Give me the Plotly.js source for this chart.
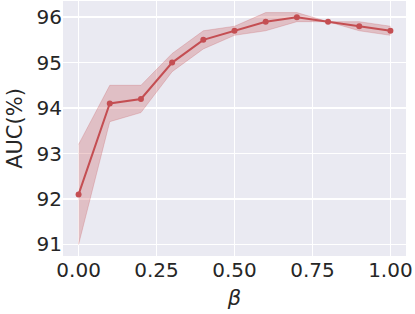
<!DOCTYPE html>
<html>
<head>
<meta charset="utf-8">
<script src="https://cdn.plot.ly/plotly-3.0.1.min.js"></script>
<style>html,body{margin:0;padding:0;background:#fff;}#chart{width:415px;height:314px;}</style>
</head>
<body>
<div id="chart"></div>
<script>
const beta = [0.0, 0.1, 0.2, 0.3, 0.4, 0.5, 0.6, 0.7, 0.8, 0.9, 1.0];
const auc = [92.1, 94.1, 94.2, 95.0, 95.5, 95.7, 95.9, 96.0, 95.9, 95.8, 95.7];
const aucUpper = [93.2, 94.5, 94.5, 95.2, 95.7, 95.8, 96.1, 96.1, 95.9, 95.9, 95.8];
const aucLower = [91.0, 93.7, 93.9, 94.8, 95.3, 95.6, 95.7, 95.9, 95.9, 95.7, 95.6];
const xTicks = [0, 0.25, 0.5, 0.75, 1.0];
const xTickText = ["0.00", "0.25", "0.50", "0.75", "1.00"];
const yTicks = [91, 92, 93, 94, 95, 96];

const red = '#c44e52';
const traces = [
  {x: beta, y: aucUpper, mode: 'lines', line: {width: 0.8, color: 'rgba(196,78,82,0.3)'}, hoverinfo: 'skip', showlegend: false},
  {x: beta, y: aucLower, mode: 'lines', line: {width: 0.8, color: 'rgba(196,78,82,0.3)'}, fill: 'tonexty', fillcolor: 'rgba(196,78,82,0.28)', hoverinfo: 'skip', showlegend: false},
  {x: beta, y: auc, mode: 'lines+markers', line: {color: red, width: 2}, marker: {color: red, size: 6}, showlegend: false}
];
const font = {family: 'DejaVu Sans', size: 20, color: '#262626'};
const layout = {
  width: 415, height: 314,
  margin: {l: 63, r: 9, t: 1, b: 58},
  paper_bgcolor: '#ffffff', plot_bgcolor: '#eaeaf2',
  font: font,
  showlegend: false,
  xaxis: {
    range: [-0.05, 1.05], tickvals: xTicks, ticktext: xTickText,
    showgrid: true, gridcolor: '#ffffff', gridwidth: 1.5, zeroline: false, showline: false,
    ticks: '', ticklen: 0, tickfont: font,
    title: {text: '<i>β</i>', font: {family: 'DejaVu Sans', size: 21, color: '#262626'}, standoff: 9}
  },
  yaxis: {
    range: [90.745, 96.355], tickvals: yTicks,
    showgrid: true, gridcolor: '#ffffff', gridwidth: 1.5, zeroline: false, showline: false,
    ticks: '', ticklen: 0, tickfont: font,
    title: {text: 'AUC(%)', font: {family: 'DejaVu Sans', size: 21, color: '#262626'}, standoff: 8}
  }
};
Plotly.newPlot('chart', traces, layout, {displayModeBar: false, staticPlot: true});
</script>
</body>
</html>
